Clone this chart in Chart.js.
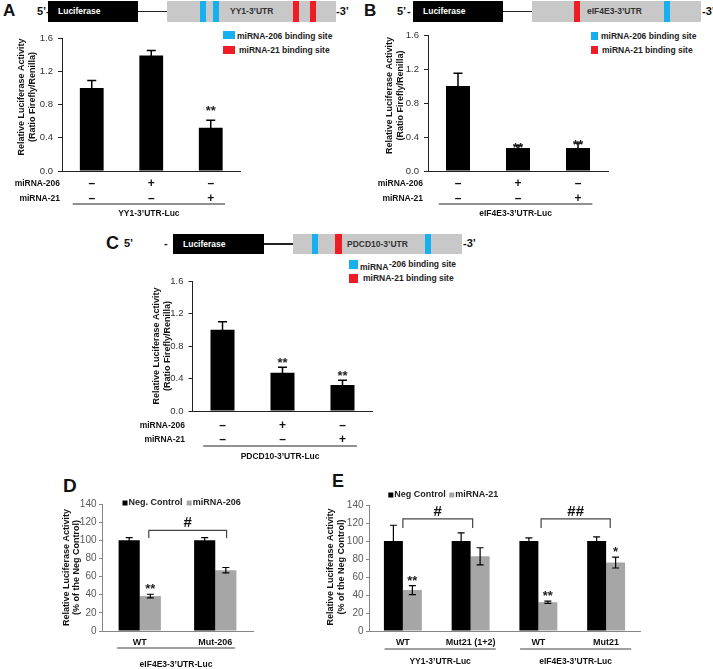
<!DOCTYPE html>
<html>
<head>
<meta charset="utf-8">
<script src="https://cdn.jsdelivr.net/npm/chart.js@4.4.1/dist/chart.umd.min.js"></script>
<style>
  body { margin: 0; background: #fff; }
  #stage { position: relative; width: 713px; height: 669px; overflow: hidden; background: #fff; }
  #stage canvas { position: absolute; }
</style>
</head>
<body>
<div id="stage"></div>
<script>
// ---- data ----
// A-C: co-transfection conditions
const mir206Row = ['–', '+', '–'];
const mir21Row = ['–', '–', '+'];
const conditions = ['control', 'miRNA-206', 'miRNA-21'];
const ratioTicks = [0, 0.4, 0.8, 1.2, 1.6];

const yy1Ratio = [1.0, 1.39, 0.52];
const yy1Sem = [0.09, 0.06, 0.09];
const yy1Stars = ['', '', '**'];

const eif4e3Ratio = [1.0, 0.27, 0.27];
const eif4e3Sem = [0.15, 0.03, 0.06];
const eif4e3Stars = ['', '**', '**'];

const pdcd10Ratio = [1.0, 0.47, 0.32];
const pdcd10Sem = [0.10, 0.07, 0.06];
const pdcd10Stars = ['', '**', '**'];

// D: eIF4E3 WT vs Mut-206
const percentTicks = [0, 20, 40, 60, 80, 100, 120, 140];
const dCategories = ['WT', 'Mut-206'];
const dNegControl = [100, 100];
const dNegSem = [3, 3];
const dMir206 = [38.5, 67];
const dMir206Sem = [2, 3];
const dStars = ['**', ''];

// E: YY1 / eIF4E3, WT vs Mut21
const eCategories = ['WT', 'Mut21 (1+2)', 'WT', 'Mut21'];
const eNegControl = [100, 100, 100, 100];
const eNegSem = [17.5, 9, 3.5, 4.5];
const eMir21 = [45.5, 83, 32, 76];
const eMir21Sem = [5, 9.5, 1.3, 6];
const eStars = ['**', '', '**', '*'];

const FONT = "'Liberation Sans', Arial, sans-serif";
const BLUE = '#17b0ef';
const RED = '#ee1c25';
const UTR_GREY = '#c8c8c8';
const BAR_GREY = '#a6a6a6';

Chart.defaults.font.family = FONT;
Chart.defaults.color = '#222';

const stage = document.getElementById('stage');

function block(x, y, w, h, color) {
  const d = document.createElement('div');
  d.style.cssText = `position:absolute;left:${x}px;top:${y}px;width:${w}px;height:${h}px;background:${color}`;
  stage.appendChild(d);
}
function label(str, x, cy, size, color = '#111') {
  const d = document.createElement('div');
  d.textContent = str;
  d.style.cssText = `position:absolute;left:${x}px;top:${cy - size * 0.6}px;` +
    `font:bold ${size}px/${size * 1.2}px ${FONT};color:${color};white-space:nowrap`;
  stage.appendChild(d);
}

// luciferase reporter constructs
function construct(c) {
  const cy = c.top + c.h / 2;
  label(c.letter, c.letterX, cy, c.letterSize);
  label('5’', c.fiveX, cy, 11);
  label('-', c.dashX, cy, 11);
  block(c.luc[0], c.top, c.luc[1] - c.luc[0], c.h, '#000');
  label('Luciferase', c.luc[0] + 10, cy, 8.5, '#fff');
  block(c.luc[1], cy - 0.6, c.utr[0] - c.luc[1], 1.2, '#222');
  block(c.utr[0], c.top, c.utr[1] - c.utr[0], c.h, UTR_GREY);
  c.sites.forEach(s => block(s[0], c.top, s[1], c.h, s[2]));
  label(c.name, c.nameX, cy, 8.5, '#333');
  label('-3’', c.endX, cy, 11);
}

construct({ letter: 'A', letterX: 3, letterSize: 17, top: 1, h: 21, fiveX: 37, dashX: 46,
  luc: [48, 138], utr: [167, 336],
  sites: [[200, 6, BLUE], [213, 6, BLUE], [293, 6, RED], [310, 6, RED]],
  name: 'YY1-3’UTR', nameX: 230, endX: 336 });
construct({ letter: 'B', letterX: 364, letterSize: 17, top: 1, h: 21, fiveX: 397, dashX: 407,
  luc: [413, 503], utr: [532, 701],
  sites: [[574, 6, RED], [664, 6, BLUE]],
  name: 'eIF4E3-3’UTR', nameX: 587, endX: 702 });
construct({ letter: 'C', letterX: 106, letterSize: 18, top: 234, h: 20, fiveX: 124, dashX: 164,
  luc: [173, 264], utr: [293, 462],
  sites: [[312, 6, BLUE], [335, 7, RED], [425, 6, BLUE]],
  name: 'PDCD10-3’UTR', nameX: 347, endX: 463 });

// binding-site keys
block(223, 31, 12, 8, BLUE); label('miRNA-206 binding site', 237, 36, 8.5, '#222');
block(223, 46, 12, 8, RED); label('miRNA-21 binding site', 239, 50, 8.5, '#222');
block(591, 32, 7, 8, BLUE); label('miRNA-206 binding site', 601, 36, 8.5, '#222');
block(591, 46, 7, 8, RED); label('miRNA-21 binding site', 602, 50, 8.5, '#222');
block(349, 260, 9, 9, BLUE); label('miRNA', 360, 267.5, 8.5, '#222'); label('-206 binding site', 389, 264, 8.5, '#222');
block(349, 274, 9, 9, RED); label('miRNA-21 binding site', 363, 278.5, 8.5, '#222');

label('D', 63, 486, 19);
label('E', 332, 482, 18);

// extra drawing: error bars, stars, condition rows, groups, brackets, legend, y title
function decor(p) {
  const d = p.decor;
  return {
    id: 'decor',
    afterDraw(chart) {
      const { ctx, chartArea: a, scales: { x, y } } = chart;
      const cw = x.getPixelForValue(1) - x.getPixelForValue(0);
      ctx.save();
      // error bars + significance stars
      chart.data.datasets.forEach((ds, i) => {
        const meta = chart.getDatasetMeta(i);
        ds.data.forEach((v, j) => {
          const bx = meta.data[j].x;
          const yt = y.getPixelForValue(v + ds.err[j]);
          const yb = y.getPixelForValue(v - ds.err[j]);
          ctx.strokeStyle = '#000';
          ctx.lineWidth = d.errWidth;
          ctx.beginPath();
          ctx.moveTo(bx, yt); ctx.lineTo(bx, yb);
          ctx.moveTo(bx - d.cap / 2, yt); ctx.lineTo(bx + d.cap / 2, yt);
          ctx.moveTo(bx - d.cap / 2, yb); ctx.lineTo(bx + d.cap / 2, yb);
          ctx.stroke();
          if (ds.stars && ds.stars[j]) {
            ctx.fillStyle = '#222';
            ctx.font = `bold 13px ${FONT}`;
            ctx.textAlign = 'center';
            ctx.textBaseline = 'alphabetic';
            ctx.fillText(ds.stars[j], bx, yt - d.starLift);
          }
        });
      });
      ctx.textBaseline = 'middle';
      ctx.fillStyle = '#111';
      // +/- condition rows
      (d.rows || []).forEach(r => {
        ctx.font = `bold 8.5px ${FONT}`;
        ctx.textAlign = 'right';
        ctx.fillText(r.name, d.headerX - p.rect.x, a.bottom + r.dy);
        ctx.font = `bold 12px ${FONT}`;
        ctx.textAlign = 'center';
        r.signs.forEach((s, j) => ctx.fillText(s, x.getPixelForValue(j), a.bottom + r.dy));
      });
      // category labels
      if (d.labelDy) {
        ctx.font = `bold 9px ${FONT}`;
        ctx.textAlign = 'center';
        chart.data.labels.forEach((l, j) => ctx.fillText(l, x.getPixelForValue(j), a.bottom + d.labelDy));
      }
      // construct groups
      d.groups.forEach(g => {
        const x0 = x.getPixelForValue(g.first) - d.ext[0] * cw;
        const x1 = x.getPixelForValue(g.last) + d.ext[1] * cw;
        ctx.strokeStyle = d.lineColor;
        ctx.lineWidth = d.lineWidth;
        ctx.beginPath();
        ctx.moveTo(x0, a.bottom + d.lineDy); ctx.lineTo(x1, a.bottom + d.lineDy);
        ctx.stroke();
        ctx.font = `bold 8.5px ${FONT}`;
        ctx.textAlign = 'center';
        ctx.fillText(g.label, (x0 + x1) / 2, a.bottom + d.groupDy);
      });
      // comparison brackets
      (d.brackets || []).forEach(b => {
        const x0 = x.getPixelForValue(b.from), x1 = x.getPixelForValue(b.to);
        const yt = y.getPixelForValue(b.top), yf = y.getPixelForValue(b.foot);
        ctx.strokeStyle = '#444';
        ctx.lineWidth = 1.2;
        ctx.beginPath();
        ctx.moveTo(x0, yf); ctx.lineTo(x0, yt); ctx.lineTo(x1, yt); ctx.lineTo(x1, yf);
        ctx.stroke();
        ctx.font = `bold 15px ${FONT}`;
        ctx.textAlign = 'center';
        ctx.fillText(b.text, (x0 + x1) / 2, yt - 7);
      });
      // series legend
      if (d.legend) {
        ctx.font = `bold 9px ${FONT}`;
        ctx.textAlign = 'left';
        chart.data.datasets.forEach((ds, i) => {
          const lx = a.left + d.legend.dx[i], ly = a.top + d.legend.dy;
          ctx.fillStyle = ds.backgroundColor;
          ctx.fillRect(lx, ly - 2.5, 5, 5);
          ctx.fillStyle = '#222';
          ctx.fillText(ds.label, lx + 6, ly);
        });
      }
      // rotated y-axis title
      ctx.fillStyle = '#111';
      ctx.font = `bold 9px ${FONT}`;
      ctx.textAlign = 'center';
      const cy = (a.top + a.bottom) / 2 + d.yTitle.dy;
      d.yTitle.lines.forEach((t, k) => {
        ctx.save();
        ctx.translate(d.yTitle.x - p.rect.x + k * 10.5, cy);
        ctx.rotate(-Math.PI / 2);
        ctx.fillText(t, 0, 0);
        ctx.restore();
      });
      ctx.restore();
    }
  };
}

function makePanel(p) {
  const r = p.rect, a = p.area;
  const cv = document.createElement('canvas');
  cv.width = r.w; cv.height = r.h;
  cv.style.left = r.x + 'px'; cv.style.top = r.y + 'px';
  stage.appendChild(cv);
  return new Chart(cv, {
    type: 'bar',
    data: { labels: p.labels, datasets: p.datasets },
    options: {
      responsive: false,
      animation: false,
      events: [],
      layout: { padding: { left: 0, bottom: 0, top: a.top - r.y, right: r.x + r.w - a.right } },
      plugins: { legend: { display: false }, tooltip: { enabled: false } },
      scales: {
        x: {
          grid: { display: false },
          ticks: { display: false },
          border: { color: p.axisColor, width: 1 },
          afterFit: s => { s.height = r.y + r.h - a.bottom; }
        },
        y: {
          min: 0,
          max: p.ticks[p.ticks.length - 1],
          afterBuildTicks: s => { s.ticks = p.ticks.map(v => ({ value: v })); },
          ticks: { font: { size: p.tickSize }, color: p.tickColor, padding: p.tickPad, callback: v => p.fmt(v) },
          grid: { drawOnChartArea: false, drawTicks: true, tickLength: p.tickLen, color: p.axisColor },
          border: { color: p.axisColor, width: 1 },
          afterFit: s => { s.width = a.left - r.x; }
        }
      }
    },
    plugins: [decor(p)]
  });
}

const ratioTitle = ['Relative Luciferase Activity', '(Ratio Firefly/Renilla)'];
const percentTitle = ['Relative Luciferase Activity', '(% of the Neg Control)'];

function ratioPanel(rect, area, name, values, sem, stars, headerX, rowDy, lineDy, groupDy, starLift, yTitle) {
  makePanel({
    rect, area, labels: conditions, ticks: ratioTicks, fmt: v => v.toFixed(1),
    tickSize: 9.5, tickColor: '#333', tickPad: 5, tickLen: 4, axisColor: '#222',
    datasets: [{ label: name, data: values, err: sem, stars, backgroundColor: '#000',
      borderWidth: 0, barPercentage: 0.4, categoryPercentage: 1 }],
    decor: {
      errWidth: 1.5, cap: 9, starLift,
      headerX,
      rows: [{ name: 'miRNA-206', signs: mir206Row, dy: rowDy[0] }, { name: 'miRNA-21', signs: mir21Row, dy: rowDy[1] }],
      groups: [{ label: name, first: 0, last: 2 }],
      ext: [0.32, 0.24], lineDy, groupDy, lineColor: '#222', lineWidth: 1,
      yTitle: { lines: ratioTitle, x: yTitle[0], dy: yTitle[1] }
    }
  });
}

ratioPanel({ x: 0, y: 24, w: 350, h: 196 }, { left: 62, top: 38, right: 240.5, bottom: 171 },
  'YY1-3’UTR-Luc', yy1Ratio, yy1Sem, yy1Stars, 60, [13, 28], 33, 43, 5, [22, -7.5]);
ratioPanel({ x: 355, y: 24, w: 358, h: 196 }, { left: 428, top: 35, right: 608, bottom: 171 },
  'eIF4E3-3’UTR-Luc', eif4e3Ratio, eif4e3Sem, eif4e3Stars, 423, [13, 28], 33, 43, -6, [390, -7.5]);
ratioPanel({ x: 100, y: 268, w: 300, h: 194 }, { left: 192.5, top: 281, right: 372.5, bottom: 411 },
  'PDCD10-3’UTR-Luc', pdcd10Ratio, pdcd10Sem, pdcd10Stars, 185, [15, 29], 35, 46, 0, [157, 0]);

// D
makePanel({
  rect: { x: 40, y: 476, w: 280, h: 193 }, area: { left: 102, top: 504, right: 253, bottom: 631 },
  labels: dCategories, ticks: percentTicks, fmt: v => String(v),
  tickSize: 10, tickColor: '#595959', tickPad: 2.5, tickLen: 3, axisColor: '#868686',
  datasets: [
    { label: 'Neg. Control', data: dNegControl, err: dNegSem, backgroundColor: '#000', borderWidth: 0, barPercentage: 1, categoryPercentage: 0.56 },
    { label: 'miRNA-206', data: dMir206, err: dMir206Sem, stars: dStars, backgroundColor: BAR_GREY, borderWidth: 0, barPercentage: 1, categoryPercentage: 0.56 }
  ],
  decor: {
    errWidth: 1.2, cap: 7, starLift: 1,
    labelDy: 12,
    groups: [{ label: 'eIF4E3-3’UTR-Luc', first: 0, last: 1 }],
    ext: [0.3, 0.26], lineDy: 17, groupDy: 34, lineColor: '#808080', lineWidth: 1.5,
    brackets: [{ from: 0.12, to: 1.15, top: 111, foot: 102.5, text: '#' }],
    legend: { dx: [20.5, 84.7], dy: -1 },
    yTitle: { lines: percentTitle, x: 66.5, dy: 0 }
  }
});

// E
makePanel({
  rect: { x: 320, y: 476, w: 393, h: 193 }, area: { left: 369, top: 505, right: 640, bottom: 631 },
  labels: eCategories, ticks: percentTicks, fmt: v => String(v),
  tickSize: 10, tickColor: '#595959', tickPad: 2.5, tickLen: 3, axisColor: '#868686',
  datasets: [
    { label: 'Neg Control', data: eNegControl, err: eNegSem, backgroundColor: '#000', borderWidth: 0, barPercentage: 1, categoryPercentage: 0.56 },
    { label: 'miRNA-21', data: eMir21, err: eMir21Sem, stars: eStars, backgroundColor: BAR_GREY, borderWidth: 0, barPercentage: 1, categoryPercentage: 0.56 }
  ],
  decor: {
    errWidth: 1.2, cap: 7, starLift: 1,
    labelDy: 12,
    groups: [{ label: 'YY1-3’UTR-Luc', first: 0, last: 1 }, { label: 'eIF4E3-3’UTR-Luc', first: 2, last: 3 }],
    ext: [0.27, 0.37], lineDy: 18, groupDy: 31, lineColor: '#808080', lineWidth: 1.5,
    brackets: [
      { from: 0, to: 1.03, top: 124.5, foot: 114.5, text: '#' },
      { from: 2.04, to: 3.06, top: 124.5, foot: 114.5, text: '##' }
    ],
    legend: { dx: [19.3, 80.3], dy: -10 },
    yTitle: { lines: percentTitle, x: 331, dy: -1 }
  }
});
</script>
</body>
</html>
